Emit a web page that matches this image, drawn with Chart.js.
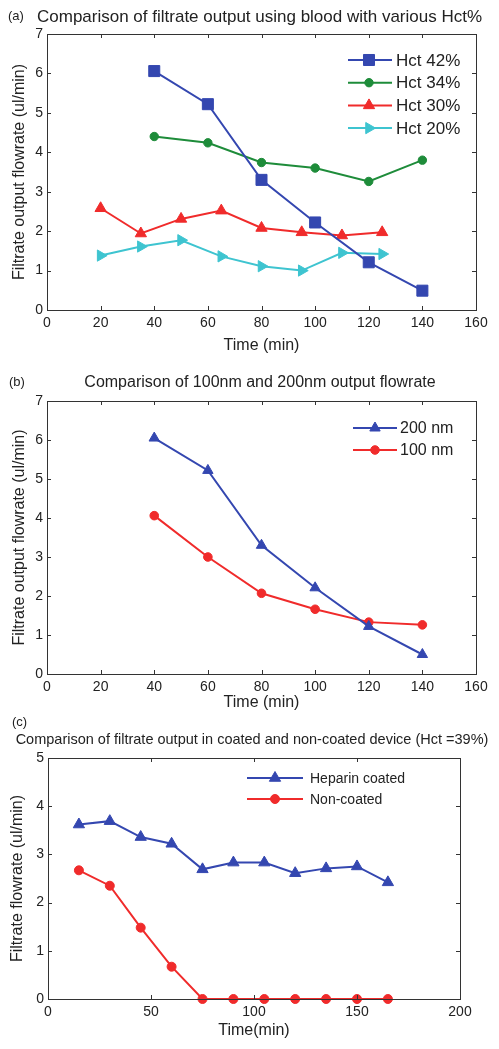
<!DOCTYPE html>
<html><head><meta charset="utf-8">
<script src="https://cdn.jsdelivr.net/npm/chart.js@4.4.0/dist/chart.umd.min.js"></script>
<style>
html,body{margin:0;padding:0;background:#fff;}
#wrap{position:relative;width:499px;height:1049px;overflow:hidden;background:#fff;}
canvas{position:absolute;left:0;}
</style></head><body>
<div id="wrap">
<canvas id="ca" width="499" height="355" style="top:0px;width:499px;height:355px"></canvas>
<canvas id="cb" width="499" height="357" style="top:355px;width:499px;height:357px"></canvas>
<canvas id="cc" width="499" height="337" style="top:712px;width:499px;height:337px"></canvas>
</div>
<script>
// ---- data (a) ----
const timeA42 = [40, 60, 80, 100, 120, 140];
const hct42   = [6.06, 5.22, 3.30, 2.22, 1.21, 0.49];
const timeA34 = [40, 60, 80, 100, 120, 140];
const hct34   = [4.40, 4.24, 3.74, 3.60, 3.26, 3.80];
const timeA30 = [20, 35, 50, 65, 80, 95, 110, 125];
const hct30   = [2.58, 1.94, 2.31, 2.52, 2.08, 1.97, 1.89, 1.97];
const timeA20 = [20, 35, 50, 65, 80, 95, 110, 125];
const hct20   = [1.38, 1.61, 1.77, 1.36, 1.11, 1.00, 1.45, 1.42];
// ---- data (b) ----
const timeB  = [40, 60, 80, 100, 120, 140];
const nm200  = [6.05, 5.22, 3.30, 2.21, 1.22, 0.50];
const nm100  = [4.06, 3.00, 2.07, 1.66, 1.33, 1.26];
// ---- data (c) ----
const timeC     = [15, 30, 45, 60, 75, 90, 105, 120, 135, 150, 165];
const heparin   = [3.62, 3.69, 3.36, 3.22, 2.69, 2.83, 2.83, 2.61, 2.71, 2.75, 2.42];
const noncoated = [2.67, 2.35, 1.48, 0.67, 0, 0, 0, 0, 0, 0, 0];
// ---- labels ----
const seriesLabelsA = ['Hct 42%', 'Hct 34%', 'Hct 30%', 'Hct 20%'];
const seriesLabelsB = ['200 nm', '100 nm'];
const seriesLabelsC = ['Heparin coated', 'Non-coated'];
const titleA = 'Comparison of filtrate output using blood with various Hct%';
const titleB = 'Comparison of 100nm and 200nm output flowrate';
const titleC = 'Comparison of filtrate output in coated and non-coated device (Hct =39%)';
const xTitleAB = 'Time (min)';
const xTitleC = 'Time(min)';
const yTitleAB = 'Filtrate output flowrate (ul/min)';
const yTitleC = 'Filtrate flowrate (ul/min)';

const BLUE = '#3447b0', GREEN = '#1e8c3a', RED = '#f02b2b', CYAN = '#3ec4d0';
const FONT = "'Liberation Sans', Arial, sans-serif";

function pts(xs, ys) { return xs.map((x, i) => ({x: x, y: ys[i]})); }

function ds(label, xs, ys, color, style, r, rot) {
  return {
    label: label, data: pts(xs, ys),
    borderColor: color, backgroundColor: color,
    pointBackgroundColor: color, pointBorderColor: color,
    pointStyle: style, pointRadius: r, pointRotation: rot || 0,
    pointBorderWidth: 1, borderWidth: 2, tension: 0, clip: false
  };
}

function drawMarker(ctx, style, x, y, r, rot) {
  ctx.save();
  ctx.translate(x, y);
  ctx.rotate((rot || 0) * Math.PI / 180);
  ctx.beginPath();
  if (style === 'rect') {
    const s = Math.SQRT1_2 * r;
    ctx.rect(-s, -s, 2 * s, 2 * s);
  } else if (style === 'triangle') {
    for (let i = 0; i < 3; i++) {
      const a = i * 2 * Math.PI / 3;
      const px = Math.sin(a) * r, py = -Math.cos(a) * r;
      if (i === 0) ctx.moveTo(px, py); else ctx.lineTo(px, py);
    }
    ctx.closePath();
  } else {
    ctx.arc(0, 0, r, 0, Math.PI * 2);
  }
  ctx.fill();
  ctx.stroke();
  ctx.restore();
}

const framePlugin = {
  id: 'frame',
  afterDatasetsDraw(chart, args, o) {
    const ctx = chart.ctx, a = chart.chartArea;
    const xs = chart.scales.x, ys = chart.scales.y;
    ctx.save();
    ctx.strokeStyle = '#333';
    ctx.lineWidth = 1;
    ctx.strokeRect(Math.round(a.left) + 0.5, Math.round(a.top) + 0.5,
                   Math.round(a.right - a.left), Math.round(a.bottom - a.top));
    const tl = o.tickLen;
    ctx.beginPath();
    xs.ticks.forEach(t => {
      const px = Math.round(xs.getPixelForValue(t.value)) + 0.5;
      ctx.moveTo(px, a.bottom); ctx.lineTo(px, a.bottom - tl);
      ctx.moveTo(px, a.top); ctx.lineTo(px, a.top + tl);
    });
    ys.ticks.forEach(t => {
      const py = Math.round(ys.getPixelForValue(t.value)) + 0.5;
      ctx.moveTo(a.left, py); ctx.lineTo(a.left + tl, py);
      ctx.moveTo(a.right, py); ctx.lineTo(a.right - tl, py);
    });
    ctx.stroke();
    ctx.restore();
  },
  afterDraw(chart, args, o) {
    const ctx = chart.ctx;
    ctx.save();
    ctx.fillStyle = '#222';
    ctx.textBaseline = 'middle';
    ctx.font = o.panelFont + 'px ' + FONT;
    ctx.textAlign = 'left';
    ctx.fillText(o.panel, o.panelX, o.panelY);
    ctx.font = o.titleFont + 'px ' + FONT;
    ctx.textAlign = o.titleAlign;
    ctx.fillText(o.title, o.titleX, o.titleY);
    const L = o.legend;
    chart.data.datasets.forEach((d, i) => {
      const y = L.y0 + i * L.dy;
      ctx.strokeStyle = d.borderColor;
      ctx.fillStyle = d.borderColor;
      ctx.lineWidth = 2;
      ctx.beginPath();
      ctx.moveTo(L.x0, y); ctx.lineTo(L.x1, y);
      ctx.stroke();
      ctx.lineWidth = 1;
      drawMarker(ctx, d.pointStyle, L.xm, y, d.pointRadius, d.pointRotation);
      ctx.fillStyle = '#222';
      ctx.font = L.font + 'px ' + FONT;
      ctx.textAlign = 'left';
      ctx.fillText(d.label, L.xt, y + 1);
    });
    ctx.restore();
  }
};

function makeChart(id, datasets, cfg) {
  return new Chart(document.getElementById(id), {
    type: 'line',
    data: { datasets: datasets },
    plugins: [framePlugin],
    options: {
      responsive: false, animation: false, devicePixelRatio: 1,
      layout: { padding: { left: 0, right: cfg.padRight, top: cfg.padTop, bottom: 0 } },
      plugins: {
        legend: { display: false }, title: { display: false }, tooltip: { enabled: false },
        frame: cfg.frame
      },
      scales: {
        x: {
          type: 'linear', min: cfg.xMin, max: cfg.xMax,
          grid: { display: false, drawTicks: false }, border: { display: false },
          ticks: { stepSize: cfg.xStep, autoSkip: false, maxRotation: 0, padding: 5,
                   color: '#222', font: { family: FONT, size: cfg.tickFont } },
          title: { display: true, text: cfg.xTitle, color: '#222',
                   font: { family: FONT, size: cfg.axTitleFont }, padding: { top: 0, bottom: cfg.xTitlePad } },
          afterFit: s => { s.height = cfg.xHeight; }
        },
        y: {
          type: 'linear', min: cfg.yMin, max: cfg.yMax,
          grid: { display: false, drawTicks: false }, border: { display: false },
          ticks: { stepSize: 1, padding: 4, color: '#222', font: { family: FONT, size: cfg.tickFont } },
          title: { display: true, text: cfg.yTitle, color: '#222',
                   font: { family: FONT, size: cfg.axTitleFont }, padding: { top: cfg.yTitlePad, bottom: 0 } },
          afterFit: s => { s.width = cfg.yWidth; }
        }
      }
    }
  });
}

makeChart('ca', [
  ds(seriesLabelsA[0], timeA42, hct42, BLUE, 'rect', 7.8),
  ds(seriesLabelsA[1], timeA34, hct34, GREEN, 'circle', 4.2),
  ds(seriesLabelsA[2], timeA30, hct30, RED, 'triangle', 6.5),
  ds(seriesLabelsA[3], timeA20, hct20, CYAN, 'triangle', 6.5, 90)
], {
  padRight: 23, padTop: 34, xHeight: 45, yWidth: 47,
  xMin: 0, xMax: 160, xStep: 20, yMin: 0, yMax: 7,
  tickFont: 14, axTitleFont: 16, xTitle: xTitleAB, yTitle: yTitleAB, xTitlePad: 0, yTitlePad: 10,
  frame: { tickLen: 4, panel: '(a)', panelX: 8, panelY: 16, panelFont: 13,
           title: titleA, titleX: 37, titleY: 17, titleAlign: 'left', titleFont: 17,
           legend: { x0: 348, x1: 392, xm: 369, xt: 396, y0: 60, dy: 22.7, font: 17 } }
});

makeChart('cb', [
  ds(seriesLabelsB[0], timeB, nm200, BLUE, 'triangle', 6),
  ds(seriesLabelsB[1], timeB, nm100, RED, 'circle', 4.3)
], {
  padRight: 23, padTop: 46, xHeight: 38, yWidth: 47,
  xMin: 0, xMax: 160, xStep: 20, yMin: 0, yMax: 7,
  tickFont: 14, axTitleFont: 16, xTitle: xTitleAB, yTitle: yTitleAB, xTitlePad: 0, yTitlePad: 10,
  frame: { tickLen: 4, panel: '(b)', panelX: 9, panelY: 27, panelFont: 13,
           title: titleB, titleX: 260, titleY: 28, titleAlign: 'center', titleFont: 16,
           legend: { x0: 353, x1: 397, xm: 375, xt: 400, y0: 73, dy: 22, font: 16 } }
});

makeChart('cc', [
  ds(seriesLabelsC[0], timeC, heparin, BLUE, 'triangle', 6.5),
  ds(seriesLabelsC[1], timeC, noncoated, RED, 'circle', 4.5)
], {
  padRight: 39, padTop: 46, xHeight: 50, yWidth: 48,
  xMin: 0, xMax: 200, xStep: 50, yMin: 0, yMax: 5,
  tickFont: 14, axTitleFont: 16, xTitle: xTitleC, yTitle: yTitleC, xTitlePad: 9, yTitlePad: 8,
  frame: { tickLen: 4, panel: '(c)', panelX: 12, panelY: 10, panelFont: 13,
           title: titleC, titleX: 252, titleY: 28, titleAlign: 'center', titleFont: 14.5,
           legend: { x0: 247, x1: 303, xm: 275, xt: 310, y0: 66, dy: 21, font: 14 } }
});
</script>
</body></html>
